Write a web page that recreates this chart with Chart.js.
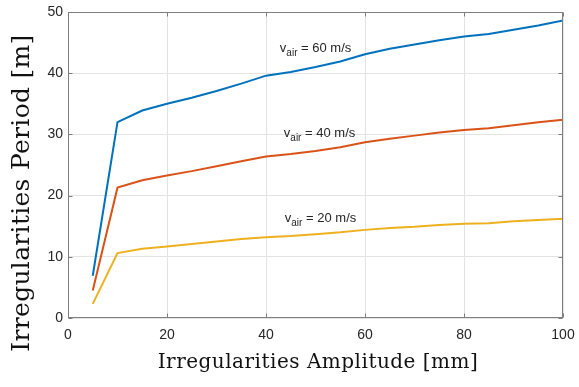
<!DOCTYPE html>
<html>
<head>
<meta charset="utf-8">
<script src="https://cdn.jsdelivr.net/npm/chart.js@4.4.1/dist/chart.umd.min.js"></script>
<style>
  html, body { margin: 0; padding: 0; background: #ffffff; }
  #wrap { width: 579px; height: 387px; position: relative; }
</style>
</head>
<body>
<div id="wrap"><canvas id="c" width="579" height="387"></canvas></div>
<script>
// ---- data ----
const amplitude = [5, 10, 15, 20, 25, 30, 35, 40, 45, 50, 55, 60, 65, 70, 75, 80, 85, 90, 95, 100];
const period60 = [6.9, 32.0, 33.9, 35.0, 36.0, 37.1, 38.3, 39.6, 40.2, 41.0, 41.9, 43.1, 44.0, 44.7, 45.4, 46.0, 46.4, 47.1, 47.8, 48.6];
const period40 = [4.5, 21.3, 22.5, 23.3, 24.0, 24.8, 25.6, 26.4, 26.8, 27.3, 27.9, 28.7, 29.3, 29.8, 30.3, 30.7, 31.0, 31.5, 32.0, 32.4];
const period20 = [2.3, 10.6, 11.3, 11.7, 12.1, 12.5, 12.9, 13.2, 13.4, 13.7, 14.0, 14.4, 14.7, 14.9, 15.2, 15.4, 15.5, 15.8, 16.0, 16.2];
const airSpeeds = [60, 40, 20];
const xTicks = [0, 20, 40, 60, 80, 100];
const yTicks = [0, 10, 20, 30, 40, 50];
const xTitle = 'Irregularities Amplitude [mm]';
const yTitle = 'Irregularities Period [m]';

const colors = ['#0072BD', '#D95319', '#EDB120'];
const seriesValues = [period60, period40, period20];

const datasets = seriesValues.map((vals, i) => ({
  label: 'v_air = ' + airSpeeds[i] + ' m/s',
  data: amplitude.map((a, k) => ({ x: a, y: vals[k] })),
  borderColor: colors[i],
  backgroundColor: colors[i],
  borderWidth: 2,
  pointRadius: 0,
  tension: 0,
  fill: false
}));

// annotation anchors (data coordinates) for the in-plot labels
const labelAnchors = [
  { x: 42.8, y: 43.4 },
  { x: 43.6, y: 29.5 },
  { x: 43.8, y: 15.7 }
];

const frameAndLabels = {
  id: 'frameAndLabels',
  afterDatasetsDraw(chart) {
    const ctx = chart.ctx;
    const xs = chart.scales.x, ys = chart.scales.y;
    const a = chart.chartArea;
    ctx.save();
    // in-plot labels
    ctx.fillStyle = '#262626';
    ctx.textBaseline = 'alphabetic';
    ctx.textAlign = 'left';
    airSpeeds.forEach((s, i) => {
      const px = xs.getPixelForValue(labelAnchors[i].x);
      const py = ys.getPixelForValue(labelAnchors[i].y);
      ctx.font = '13px "Liberation Sans", Arial, sans-serif';
      ctx.fillText('v', px, py);
      let w = ctx.measureText('v').width;
      ctx.font = '10px "Liberation Sans", Arial, sans-serif';
      ctx.fillText('air', px + w, py + 4);
      w += ctx.measureText('air').width;
      ctx.font = '13px "Liberation Sans", Arial, sans-serif';
      ctx.fillText(' = ' + s + ' m/s', px + w, py);
    });
    // frame
    ctx.strokeStyle = '#7f7f7f';
    ctx.lineWidth = 1;
    const L = Math.round(a.left) + 0.5, R = Math.round(a.right) - 0.5;
    const T = Math.round(a.top) + 0.5, B = Math.round(a.bottom) - 0.5;
    ctx.strokeRect(L, T, R - L, B - T);
    ctx.beginPath();
    xTicks.forEach(v => {
      const p = Math.round(xs.getPixelForValue(v)) + 0.5;
      ctx.moveTo(p, B); ctx.lineTo(p, B - 4);
      ctx.moveTo(p, T); ctx.lineTo(p, T + 4);
    });
    yTicks.forEach(v => {
      const p = Math.round(ys.getPixelForValue(v)) + 0.5;
      ctx.moveTo(L, p); ctx.lineTo(L + 4, p);
      ctx.moveTo(R, p); ctx.lineTo(R - 4, p);
    });
    ctx.stroke();
    // axis titles
    ctx.fillStyle = '#111111';
    ctx.textAlign = 'center';
    ctx.textBaseline = 'middle';
    ctx.font = '20px "DejaVu Serif", serif';
    if ('letterSpacing' in ctx) ctx.letterSpacing = '0.5px';
    ctx.fillText(xTitle, 318, 363);
    ctx.translate(22, 193);
    ctx.rotate(-Math.PI / 2);
    ctx.font = '25px "DejaVu Serif", serif';
    if ('letterSpacing' in ctx) ctx.letterSpacing = '0.3px';
    ctx.fillText(yTitle, 0, 0);
    ctx.restore();
  }
};

new Chart(document.getElementById('c'), {
  type: 'line',
  data: { datasets },
  plugins: [frameAndLabels],
  options: {
    responsive: false,
    animation: false,
    layout: { padding: { top: 12, right: 16, left: 0, bottom: 0 } },
    plugins: { legend: { display: false }, tooltip: { enabled: false } },
    scales: {
      x: {
        type: 'linear', min: 0, max: 100,
        afterFit(s) { s.height = 69; s.paddingLeft = 0; s.paddingRight = 0; },
        afterBuildTicks(s) { s.ticks = xTicks.map(v => ({ value: v })); },
        ticks: { color: '#262626', padding: 9, font: { family: '"Liberation Sans", Arial, sans-serif', size: 14 } },
        grid: { color: '#e3e3e3', drawTicks: false },
        border: { display: false }
      },
      y: {
        type: 'linear', min: 0, max: 50,
        afterFit(s) { s.width = 68; s.paddingTop = 0; s.paddingBottom = 0; },
        afterBuildTicks(s) { s.ticks = yTicks.map(v => ({ value: v })); },
        ticks: { color: '#262626', padding: 5, font: { family: '"Liberation Sans", Arial, sans-serif', size: 14 } },
        grid: { color: '#e3e3e3', drawTicks: false },
        border: { display: false }
      }
    }
  }
});
</script>
</body>
</html>
